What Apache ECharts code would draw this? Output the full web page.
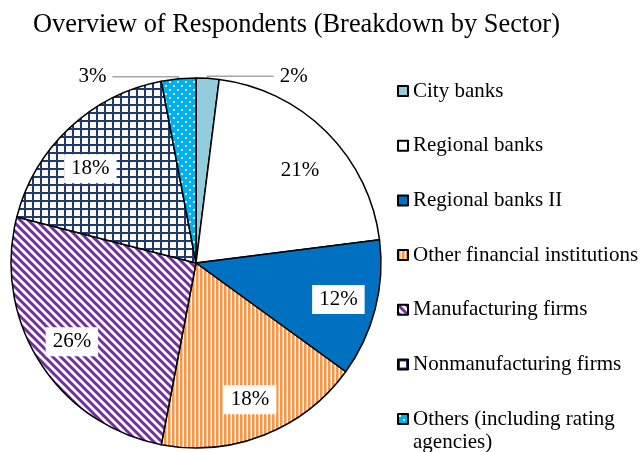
<!DOCTYPE html>
<html>
<head>
<meta charset="utf-8">
<script src="https://cdn.jsdelivr.net/npm/echarts@6/dist/echarts.min.js"></script>
<style>
  html, body { margin: 0; padding: 0; background: #fff; }
  #chart { width: 641px; height: 452px; }
</style>
</head>
<body>
<div id="chart"></div>
<script>
// Survey respondents by sector (percent of total)
const sectors = [
  'City banks',
  'Regional banks',
  'Regional banks II',
  'Other financial institutions',
  'Manufacturing firms',
  'Nonmanufacturing firms',
  'Others (including rating agencies)'
];
const shares = [2, 21, 12, 18, 26, 18, 3];
const titleText = 'Overview of Respondents (Breakdown by Sector)';

// ---- fill patterns -------------------------------------------------------
function tile(w, h, draw) {
  const c = document.createElement('canvas');
  c.width = w; c.height = h;
  draw(c.getContext('2d'), w, h);
  return { image: c, repeat: 'repeat' };
}

const vStripes = tile(4, 4, (g, w, h) => {
  g.fillStyle = '#ffffff'; g.fillRect(0, 0, w, h);
  g.fillStyle = '#F79646'; g.fillRect(0, 0, 2, h);
  g.fillStyle = '#FBC59C'; g.fillRect(2, 0, 1, h);
});

const diagStripes = tile(8, 8, (g, w, h) => {
  g.fillStyle = '#ffffff'; g.fillRect(0, 0, w, h);
  g.strokeStyle = '#7030A0'; g.lineWidth = 3;
  for (let k = -2; k <= 2; k++) {
    g.beginPath();
    g.moveTo(k * w - w, -h);
    g.lineTo(k * w + 2 * w, 2 * h);
    g.stroke();
  }
});

const gridFill = tile(8, 8, (g, w, h) => {
  g.fillStyle = '#ffffff'; g.fillRect(0, 0, w, h);
  g.fillStyle = '#1F3A6E';
  g.fillRect(0, 0, 2, h);
  g.fillRect(0, 0, w, 2);
});

const dotFill = tile(8, 8, (g, w, h) => {
  g.fillStyle = '#00B0F0'; g.fillRect(0, 0, w, h);
  g.fillStyle = '#CFF0FC';
  g.fillRect(1, 1, 2, 2);
  g.fillRect(5, 5, 2, 2);
});

const fills = ['#93CDDD', '#ffffff', '#0070C0', vStripes, diagStripes, gridFill, dotFill];
const outsideLabel = [true, false, false, false, false, false, true];
// small nudges for the in-slice labels of the upper slices
const labelNudge = { 1: [0, 11], 5: [-5, 13] };

const serif = '"Liberation Serif", "Times New Roman", serif';

const pieData = sectors.map((name, i) => ({
  name,
  value: shares[i],
  itemStyle: { color: fills[i] },
  label: { show: outsideLabel[i] },
  labelLine: { show: outsideLabel[i] }
}));

const labelData = sectors.map((name, i) => ({
  name,
  value: shares[i],
  label: { show: !outsideLabel[i] }
}));

const legendText = { fontFamily: serif, fontSize: 21, color: '#000', lineHeight: 24 };

const chart = echarts.init(document.getElementById('chart'), null, { renderer: 'canvas' });

chart.setOption({
  animation: false,
  backgroundColor: '#ffffff',
  title: {
    text: titleText,
    left: 28,
    top: 7,
    textStyle: { fontFamily: serif, fontSize: 26.4, fontWeight: 'normal', color: '#000' }
  },
  legend: [
    {
      orient: 'vertical',
      left: 397,
      top: 79,
      padding: 0,
      itemWidth: 10,
      itemHeight: 10,
      itemGap: 30.7,
      icon: 'rect',
      selectedMode: false,
      textStyle: legendText,
      data: sectors.slice(0, 6)
    },
    {
      // two-line entry: a blank leading line keeps the first text line level with its swatch
      orient: 'vertical',
      left: 397,
      top: 384.5,
      padding: 0,
      itemWidth: 10,
      itemHeight: 10,
      icon: 'rect',
      selectedMode: false,
      textStyle: { fontFamily: serif, fontSize: 21, color: '#000', lineHeight: 23 },
      formatter: () => ' \nOthers (including rating\nagencies)',
      data: [sectors[6]]
    }
  ],
  series: [
    {
      type: 'pie',
      name: 'Sector',
      center: [196, 263],
      radius: [0, 185],
      startAngle: 90,
      clockwise: true,
      avoidLabelOverlap: false,
      itemStyle: { borderColor: '#000', borderWidth: 1.5 },
      label: {
        position: 'outside',
        formatter: '{c}%',
        fontFamily: serif,
        fontSize: 21,
        color: '#000',
        distanceToLabelLine: 6
      },
      labelLine: {
        length: 2,
        length2: 66,
        smooth: false,
        lineStyle: { color: '#A6A6A6', width: 1.5 }
      },
      emphasis: { disabled: true },
      data: pieData
    },
    {
      // transparent ring that carries the in-slice percentage labels
      type: 'pie',
      name: 'Labels',
      center: [196, 263],
      radius: [103, 185],
      startAngle: 90,
      clockwise: true,
      silent: true,
      itemStyle: { color: 'rgba(0,0,0,0)', borderWidth: 0 },
      label: {
        position: 'inside',
        formatter: '{c}%',
        fontFamily: serif,
        fontSize: 21,
        color: '#000',
        backgroundColor: '#ffffff',
        padding: [4, 7, 4, 7]
      },
      labelLine: { show: false },
      labelLayout: params => {
        const n = labelNudge[params.dataIndex];
        return n ? { dx: n[0], dy: n[1] } : {};
      },
      emphasis: { disabled: true },
      data: labelData
    }
  ]
});
</script>
</body>
</html>
